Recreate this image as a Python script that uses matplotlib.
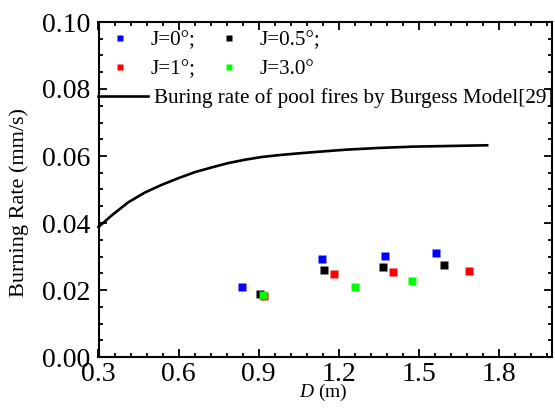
import matplotlib
matplotlib.use("Agg")
import matplotlib.pyplot as plt
from matplotlib.ticker import MultipleLocator, FormatStrFormatter
from matplotlib.lines import Line2D

plt.rcParams['font.family'] = ['Liberation Serif', 'DejaVu Serif']
plt.rcParams['mathtext.fontset'] = 'custom'
plt.rcParams['mathtext.it'] = 'Liberation Serif:italic'
plt.rcParams['mathtext.rm'] = 'Liberation Serif'

# Data
d_j0 = [0.837, 1.136, 1.375, 1.566]
r_j0 = [0.0210, 0.0292, 0.0301, 0.0310]
d_j05 = [0.907, 1.147, 1.368, 1.596]
r_j05 = [0.0188, 0.0260, 0.0268, 0.0275]
d_j1 = [0.922, 1.181, 1.405, 1.690]
r_j1 = [0.0183, 0.0247, 0.0255, 0.0257]
d_j3 = [0.915, 1.262, 1.476]
r_j3 = [0.0184, 0.0210, 0.0228]

d_model = [0.300, 0.350, 0.412, 0.474, 0.537, 0.600, 0.662, 0.725, 0.787, 0.850,
           0.912, 0.981, 1.037, 1.130, 1.231, 1.350, 1.481, 1.620, 1.757]
r_model = [0.0388, 0.0423, 0.0462, 0.0491, 0.0514, 0.0534, 0.0552, 0.0566, 0.0579, 0.0589,
           0.0597, 0.0603, 0.0607, 0.0613, 0.0619, 0.0624, 0.0628, 0.0630, 0.0632]

labels = ['J=0°;', 'J=0.5°;', 'J=1°;', 'J=3.0°']
colors = ['#0000ff', '#000000', '#ff0000', '#00ff00']
model_label = 'Buring rate of pool fires by Burgess Model[29]'

fig = plt.figure(figsize=(5.55, 4.11), dpi=100)
ax = fig.add_axes([98.5/555, 1-357/411, (552-98.5)/555, (357-22)/411])

ms = 5.2
ax.plot(d_j0, r_j0, 's', color=colors[0], ms=ms, mec='none')
ax.plot(d_j05, r_j05, 's', color=colors[1], ms=ms, mec='none')
ax.plot(d_j1, r_j1, 's', color=colors[2], ms=ms, mec='none')
ax.plot(d_j3, r_j3, 's', color=colors[3], ms=ms, mec='none')
ax.plot(d_model, r_model, '-', color='black', lw=1.9, clip_on=False)

ax.set_xlim(0.3, 2.0)
ax.set_ylim(0.0, 0.10)
ax.xaxis.set_major_locator(MultipleLocator(0.3))
ax.xaxis.set_minor_locator(MultipleLocator(0.06))
ax.yaxis.set_major_locator(MultipleLocator(0.02))
ax.yaxis.set_minor_locator(MultipleLocator(0.005))
ax.xaxis.set_major_formatter(FormatStrFormatter('%.1f'))
ax.yaxis.set_major_formatter(FormatStrFormatter('%.2f'))
ax.tick_params(which='both', direction='in', top=True, right=True, width=1.3, labelsize=20)
ax.tick_params(which='major', length=5.5)
ax.tick_params(which='minor', length=3)
ax.tick_params(axis='y', pad=6)
ax.tick_params(axis='x', pad=3.5)
for s in ax.spines.values():
    s.set_linewidth(1.5)

fig.text(19/555, 1-202/411, 'Burning Rate (mm/s)', rotation=90, ha='center', va='center', fontsize=16)
fig.text(323.5/555, 1-392/411, '$D$ (m)', ha='center', va='center', fontsize=14)

order = [0, 2, 1, 3]
handles = [Line2D([], [], ls='none', marker='s', color=colors[i], ms=4.8, mec='none') for i in order]
lab_order = [labels[i] for i in order]
leg1 = ax.legend(handles, lab_order, ncol=2, loc='upper left', bbox_to_anchor=(0.0066, 1.0),
                 frameon=False, fontsize=15.2, handlelength=1.0, handletextpad=0.94,
                 columnspacing=1.06, labelspacing=0.45, borderaxespad=0.1, borderpad=0.3)
ax.add_artist(leg1)
h2 = [Line2D([], [], color='black', lw=1.9)]
leg2 = ax.legend(h2, [model_label], loc='upper left', bbox_to_anchor=(-0.001, 0.803),
                 frameon=False, fontsize=15.2, handlelength=2.36, handletextpad=0.27,
                 borderaxespad=0.0, borderpad=0.0)
for t in leg2.get_texts():
    t.set_clip_on(False)

fig.savefig('out.png', dpi=100)
